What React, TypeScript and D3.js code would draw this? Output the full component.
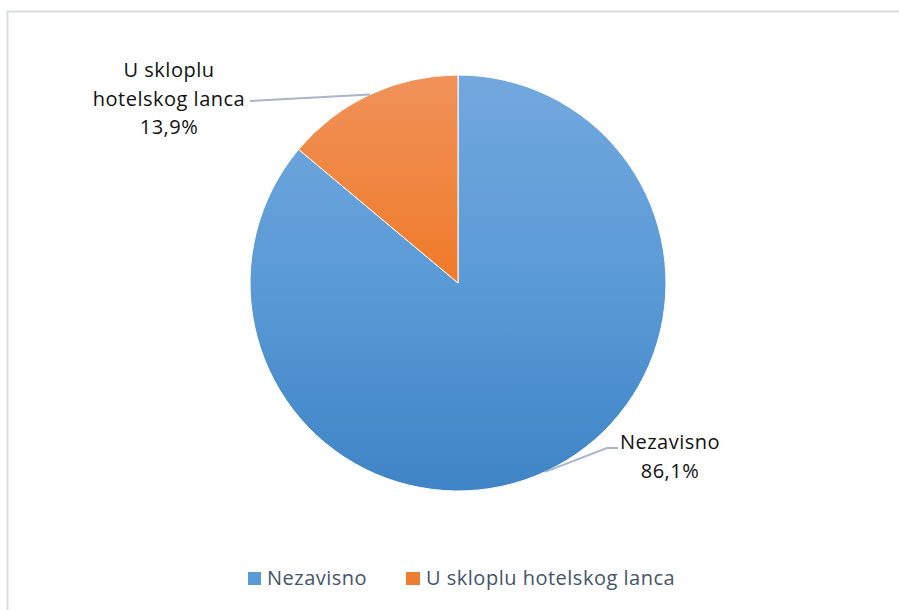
import { useMemo } from 'react';
import * as d3 from 'd3';

const CATEGORIES = ['Nezavisno', 'U skloplu hotelskog lanca'];
const VALUES = [86.1, 13.9];
const LABEL_LINES = [['Nezavisno', '86,1%'], ['U skloplu', 'hotelskog lanca', '13,9%']];
const GRADIENTS = [
  ['#72a8de', '#5a9ad6', '#3f84c6'],
  ['#f0925a', '#f07a28', '#e06a14'],
];
const SWATCH = ['#5b9bd5', '#ed7d31'];

const W = 899;
const H = 610;
const CX = 458;
const CY = 283;
const R = 208;
const FONT = '"Open Sans", Lato, sans-serif';

export default function App() {
  const arcs = useMemo(() => {
    const pie = d3.pie<number>().sort(null).value((d) => d);
    return pie(VALUES);
  }, []);
  const arcGen = d3.arc<d3.PieArcDatum<number>>().innerRadius(0).outerRadius(R);

  // leader lines: angle on the rim, optional bend, end near the label
  const labelPos = [
    { x: 670, y: 442, angle: 2.71, bend: [607, 448], lineEnd: [618, 448] },
    { x: 169, y: 70, angle: 2 * Math.PI - 0.437, bend: null, lineEnd: [250, 101] },
  ];

  return (
    <div style={{ position: 'fixed', left: 0, top: 0, width: W, height: H, overflow: 'hidden' }}>
      <svg width={W} height={H} style={{ display: 'block', background: '#fff' }}>
        <defs>
          {GRADIENTS.map((g, i) => (
            <linearGradient
              key={i}
              id={`grad-${i}`}
              gradientUnits="userSpaceOnUse"
              x1={0}
              y1={-R}
              x2={0}
              y2={R}
            >
              <stop offset="0" stopColor={g[0]} />
              <stop offset="0.5" stopColor={g[1]} />
              <stop offset="1" stopColor={g[2]} />
            </linearGradient>
          ))}
        </defs>
        <rect x={7.5} y={11.5} width={900} height={610} fill="none" stroke="#d9dde3" strokeWidth={2} />
        <g transform={`translate(${CX},${CY})`}>
          {arcs.map((a, i) => (
            <path key={i} d={arcGen(a) ?? ''} fill={`url(#grad-${i})`} stroke="#ffffff" strokeWidth={1} />
          ))}
        </g>
        {labelPos.map((lp, i) => {
          const ex = CX + Math.sin(lp.angle) * R;
          const ey = CY - Math.cos(lp.angle) * R;
          const pts: [number, number][] = [[ex, ey]];
          if (lp.bend) pts.push(lp.bend as [number, number]);
          pts.push(lp.lineEnd as [number, number]);
          return (
            <path key={`l${i}`} d={d3.line()(pts) ?? ''} fill="none" stroke="#a9b6c8" strokeWidth={2} />
          );
        })}
        {LABEL_LINES.map((lines, i) => (
          <text
            key={`t${i}`}
            x={labelPos[i].x}
            y={labelPos[i].y}
            textAnchor="middle"
            fontFamily={FONT}
            fontSize={20}
            letterSpacing={0.5}
            fill="#111"
          >
            {lines.map((t, j) => (
              <tspan key={j} x={labelPos[i].x} dy={j === 0 ? 7 : 28.5}>
                {t}
              </tspan>
            ))}
          </text>
        ))}
        <g fontFamily={FONT} fontSize={20} letterSpacing={0.5} fill="#44546a">
          <rect x={248} y={572} width={13} height={13} fill={SWATCH[0]} />
          <text x={267} y={585}>{CATEGORIES[0]}</text>
          <rect x={406} y={572} width={14} height={13} fill={SWATCH[1]} />
          <text x={426} y={585}>{CATEGORIES[1]}</text>
        </g>
      </svg>
    </div>
  );
}
